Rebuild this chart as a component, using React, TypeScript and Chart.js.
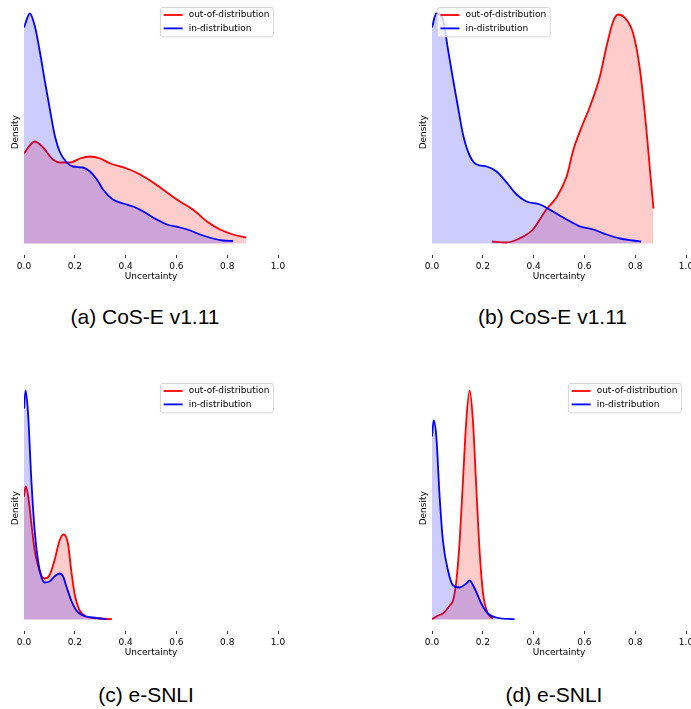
import React, { useEffect, useRef } from 'react';
import { Chart, registerables } from 'chart.js';

Chart.register(...registerables);

// ---------- data ----------
const xTicks = [0, 0.2, 0.4, 0.6, 0.8, 1.0];
const seriesLabels = ['out-of-distribution', 'in-distribution'];
const captions = ['(a) CoS-E v1.11', '(b) CoS-E v1.11', '(c) e-SNLI', '(d) e-SNLI'];

// (a) CoS-E v1.11
const aInX = [0, 0.023, 0.043, 0.063, 0.083, 0.102, 0.122, 0.142, 0.169, 0.193, 0.232, 0.26, 0.287, 0.311, 0.35, 0.39, 0.43, 0.47, 0.508, 0.563, 0.614, 0.654, 0.693, 0.744, 0.783, 0.823];
const aInY = [4.32, 4.6, 4.34, 3.82, 3.22, 2.68, 2.14, 1.82, 1.62, 1.54, 1.52, 1.44, 1.28, 1.08, 0.88, 0.8, 0.74, 0.64, 0.52, 0.38, 0.32, 0.26, 0.18, 0.1, 0.06, 0.05];
const aOodX = [0, 0.042, 0.075, 0.114, 0.142, 0.181, 0.22, 0.26, 0.3, 0.34, 0.405, 0.457, 0.508, 0.563, 0.614, 0.665, 0.72, 0.772, 0.823, 0.874];
const aOodY = [1.8, 2.04, 1.92, 1.68, 1.62, 1.62, 1.7, 1.74, 1.7, 1.6, 1.5, 1.38, 1.22, 1.02, 0.84, 0.68, 0.44, 0.28, 0.18, 0.12];

// (b) CoS-E v1.11
const bInX = [0, 0.017, 0.043, 0.063, 0.083, 0.104, 0.124, 0.15, 0.176, 0.215, 0.254, 0.294, 0.333, 0.372, 0.425, 0.476, 0.53, 0.583, 0.635, 0.687, 0.74, 0.79, 0.823];
const bInY = [4.32, 4.6, 4.48, 3.88, 3.28, 2.68, 2.14, 1.74, 1.58, 1.54, 1.44, 1.22, 0.98, 0.84, 0.78, 0.64, 0.48, 0.34, 0.28, 0.18, 0.1, 0.06, 0.04];
const bOodX = [0.236, 0.291, 0.344, 0.397, 0.45, 0.49, 0.53, 0.557, 0.59, 0.622, 0.661, 0.687, 0.713, 0.732, 0.758, 0.791, 0.817, 0.843, 0.859, 0.872];
const bOodY = [0.04, 0.02, 0.1, 0.28, 0.68, 0.92, 1.34, 1.88, 2.34, 2.74, 3.34, 3.94, 4.44, 4.58, 4.52, 4.22, 3.54, 2.34, 1.42, 0.7];

// (c) e-SNLI
const cInX = [0, 0.0065, 0.016, 0.029, 0.042, 0.055, 0.068, 0.081, 0.1, 0.12, 0.14, 0.154, 0.167, 0.186, 0.206, 0.232, 0.271, 0.324];
const cInY = [4.22, 4.58, 4.12, 2.78, 1.78, 1.18, 0.86, 0.74, 0.76, 0.86, 0.92, 0.86, 0.66, 0.38, 0.18, 0.08, 0.04, 0.006];
const cOodX = [0, 0.0065, 0.016, 0.029, 0.042, 0.055, 0.068, 0.081, 0.1, 0.12, 0.14, 0.156, 0.173, 0.186, 0.199, 0.219, 0.245, 0.298, 0.346];
const cOodY = [2.46, 2.66, 2.48, 1.92, 1.38, 1.08, 0.88, 0.82, 0.88, 1.18, 1.58, 1.7, 1.52, 0.98, 0.52, 0.18, 0.06, 0.02, 0.006];

// (d) e-SNLI
const dInX = [0, 0.0066, 0.017, 0.03, 0.043, 0.063, 0.083, 0.109, 0.135, 0.148, 0.168, 0.194, 0.22, 0.253, 0.325];
const dInY = [3.66, 3.98, 3.66, 2.46, 1.58, 0.98, 0.68, 0.64, 0.72, 0.78, 0.62, 0.32, 0.12, 0.04, 0.006];
const dOodX = [0, 0.024, 0.043, 0.07, 0.083, 0.096, 0.109, 0.122, 0.135, 0.148, 0.161, 0.175, 0.188, 0.201, 0.22, 0.24];
const dOodY = [0.006, 0.08, 0.12, 0.28, 0.38, 0.78, 1.58, 2.78, 3.98, 4.58, 3.98, 2.58, 1.32, 0.52, 0.12, 0.02];

// ---------- styling ----------
const FONT = '"DejaVu Sans", sans-serif';
const RED = '#ff0000';
const BLUE = '#0000ff';

const toPts = (xs: number[], ys: number[]) => xs.map((x, i) => ({ x, y: ys[i] }));

const legendPlugin = {
  id: 'kdeLegend',
  afterDraw(chart: any, _args: any, opts: any) {
    const { ctx, chartArea } = chart;
    const ds = chart.data.datasets;
    const items = [ds[1], ds[0]];
    ctx.save();
    ctx.font = `9px ${FONT}`;
    const textW = Math.max(...items.map((d: any) => ctx.measureText(d.label).width));
    const padL = 3.7, handle = 19, gap = 6, padR = 3.5;
    const w = padL + handle + gap + textW + padR;
    const h = 29.4;
    const x = opts.side === 'left' ? chartArea.left + 4.7 : chartArea.right - 5 - w;
    const y = opts.top;
    ctx.beginPath();
    ctx.roundRect(x + 0.5, y + 0.5, w, h, 2.5);
    ctx.fillStyle = 'rgba(255,255,255,0.8)';
    ctx.fill();
    ctx.strokeStyle = 'rgba(204,204,204,0.8)';
    ctx.lineWidth = 1;
    ctx.stroke();
    items.forEach((d: any, i: number) => {
      const cy = y + 8 + i * 13.4;
      ctx.beginPath();
      ctx.moveTo(x + padL, cy);
      ctx.lineTo(x + padL + handle, cy);
      ctx.strokeStyle = d.borderColor;
      ctx.lineWidth = 1.8;
      ctx.stroke();
      ctx.fillStyle = '#000';
      ctx.textBaseline = 'middle';
      ctx.textAlign = 'left';
      ctx.fillText(d.label, x + padL + handle + gap, cy);
    });
    ctx.restore();
  },
};

type PanelProps = {
  inX: number[]; inY: number[]; oodX: number[]; oodY: number[];
  side: 'left' | 'right'; left: number; top: number;
};

const W = 290;
const H = 283;

function Panel({ inX, inY, oodX, oodY, side, left, top }: PanelProps) {
  const ref = useRef<HTMLCanvasElement>(null);
  useEffect(() => {
    if (!ref.current) return;
    const chart = new Chart(ref.current, {
      type: 'line',
      data: {
        datasets: [
          {
            label: seriesLabels[1],
            data: toPts(inX, inY),
            borderColor: BLUE,
            backgroundColor: 'rgba(0,0,255,0.2)',
            borderWidth: 1.8,
            fill: 'origin',
            pointRadius: 0,
            cubicInterpolationMode: 'monotone',
          },
          {
            label: seriesLabels[0],
            data: toPts(oodX, oodY),
            borderColor: RED,
            backgroundColor: 'rgba(255,0,0,0.2)',
            borderWidth: 1.8,
            fill: 'origin',
            pointRadius: 0,
            cubicInterpolationMode: 'monotone',
          },
        ],
      },
      options: {
        animation: false,
        responsive: false,
        devicePixelRatio: 1,
        layout: { padding: { top: 10, right: 12, left: 0, bottom: 0 } },
        plugins: {
          legend: { display: false },
          tooltip: { enabled: false },
          kdeLegend: { side, top: 7 },
        } as any,
        scales: {
          x: {
            type: 'linear',
            min: 0,
            max: 1,
            afterBuildTicks: (s: any) => { s.ticks = xTicks.map((v) => ({ value: v })); },
            afterFit: (s: any) => { s.height = 28.5; },
            ticks: {
              callback: (v: any) => Number(v).toFixed(1),
              font: { family: FONT, size: 9 },
              color: '#000',
              padding: 3,
              maxRotation: 0,
              autoSkip: false,
            },
            grid: {
              display: true,
              drawOnChartArea: false,
              drawTicks: true,
              tickLength: 3.5,
              color: '#222',
              lineWidth: 0.9,
            },
            border: { display: false },
            title: {
              display: true,
              text: 'Uncertainty',
              font: { family: FONT, size: 9 },
              color: '#000',
              padding: { top: 0, bottom: 0.5 },
            },
          },
          y: {
            type: 'linear',
            min: -0.22,
            max: 4.67,
            afterFit: (s: any) => { s.width = 24; },
            ticks: { display: false },
            grid: { display: false, drawTicks: false },
            border: { display: false },
            title: {
              display: true,
              text: 'Density',
              font: { family: FONT, size: 9 },
              color: '#000',
              padding: { top: 10.3, bottom: 0 },
            },
          },
        },
      } as any,
      plugins: [legendPlugin],
    });
    return () => chart.destroy();
  }, []);
  return (
    <canvas
      ref={ref}
      width={W}
      height={H}
      style={{ position: 'absolute', left, top, width: W, height: H }}
    />
  );
}

function Caption({ text, cx, top }: { text: string; cx: number; top: number }) {
  return (
    <div
      style={{
        position: 'absolute',
        left: cx - 150,
        top,
        width: 300,
        textAlign: 'center',
        fontFamily: '"Liberation Sans", Arial, sans-serif',
        fontSize: 21,
        lineHeight: '24px',
        color: '#000',
        whiteSpace: 'nowrap',
      }}
    >
      {text}
    </div>
  );
}

export default function App() {
  return (
    <div
      style={{
        position: 'absolute',
        left: 0,
        top: 0,
        width: 691,
        height: 709,
        overflow: 'hidden',
        background: '#fff',
      }}
    >
      <Panel inX={aInX} inY={aInY} oodX={aOodX} oodY={aOodY} side="right" left={0} top={0} />
      <Panel inX={bInX} inY={bInY} oodX={bOodX} oodY={bOodY} side="left" left={408} top={0} />
      <Panel inX={cInX} inY={cInY} oodX={cOodX} oodY={cOodY} side="right" left={0} top={376} />
      <Panel inX={dInX} inY={dInY} oodX={dOodX} oodY={dOodY} side="right" left={408} top={376} />
      <Caption text={captions[0]} cx={145} top={305} />
      <Caption text={captions[1]} cx={552.5} top={305} />
      <Caption text={captions[2]} cx={146} top={683} />
      <Caption text={captions[3]} cx={554} top={683} />
    </div>
  );
}
